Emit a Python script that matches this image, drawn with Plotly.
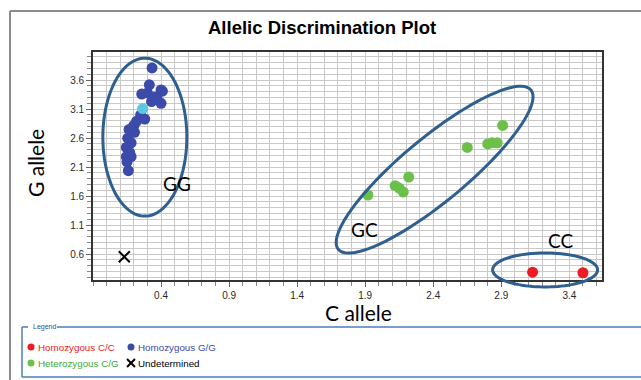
import numpy as np
import plotly.graph_objects as go

# ---- genotype calls (C allele signal, G allele signal) ----
cc_x = [3.13, 3.50]
cc_y = [0.29, 0.28]

gg_x = [0.334, 0.314, 0.258, 0.400, 0.410, 0.355, 0.400, 0.330, 0.370, 0.300,
        0.250, 0.280, 0.220, 0.200, 0.165, 0.205, 0.155, 0.180, 0.145, 0.170,
        0.145, 0.180, 0.150, 0.160]
gg_y = [3.81, 3.52, 3.36, 3.43, 3.41, 3.31, 3.20, 3.23, 3.28, 3.38,
        3.00, 2.93, 2.89, 2.82, 2.75, 2.70, 2.60, 2.52, 2.44, 2.35,
        2.28, 2.28, 2.19, 2.04]

gg_sel_x = [0.265]
gg_sel_y = [3.11]

gc_x = [1.92, 2.12, 2.15, 2.18, 2.22, 2.65, 2.80, 2.83, 2.87, 2.91]
gc_y = [1.62, 1.78, 1.74, 1.67, 1.93, 2.44, 2.50, 2.52, 2.52, 2.82]

und_x = [0.13]
und_y = [0.555]

x_ticks = [0.4, 0.9, 1.4, 1.9, 2.4, 2.9, 3.4]
y_ticks = [0.6, 1.1, 1.6, 2.1, 2.6, 3.1, 3.6]
x_range = [-0.1, 3.64]
y_range = [0.155, 4.085]

# ---- page geometry ----
W, H = 641, 380
ML, MR, MT, MB = 93, 39, 52, 100
PW, PH = W - ML - MR, H - MT - MB

RED = "#EC1C24"
BLUE = "#3C4BAA"
CYAN = "#5BC8E2"
GREEN = "#6CC04A"
RING = "#2F5F8F"


def px(x):
    return (x - ML) / PW


def py(y):
    return (H - MB - y) / PH


def dx(v):
    return ML + (v - x_range[0]) / (x_range[1] - x_range[0]) * PW


def dy(v):
    return H - MB - (v - y_range[0]) / (y_range[1] - y_range[0]) * PH


def ellipse_path(cx, cy, a, b, ang_deg, n=90):
    """Ellipse centred on a data point, semi-axes in screen pixels."""
    cxp, cyp = dx(cx), dy(cy)
    t = np.linspace(0, 2 * np.pi, n, endpoint=False)
    ang = np.radians(ang_deg)
    ex = a * np.cos(t)
    ey = b * np.sin(t)
    xs = cxp + ex * np.cos(ang) + ey * np.sin(ang)
    ys = cyp - ex * np.sin(ang) + ey * np.cos(ang)
    pts = [f"{px(X):.5f},{py(Y):.5f}" for X, Y in zip(xs, ys)]
    return "M " + " L ".join(pts) + " Z"


fig = go.Figure()
fig.add_trace(go.Scatter(x=gc_x, y=gc_y, mode="markers",
                         marker=dict(size=11, color=GREEN), name="Heterozygous C/G"))
fig.add_trace(go.Scatter(x=gg_x, y=gg_y, mode="markers",
                         marker=dict(size=11, color=BLUE), name="Homozygous G/G"))
fig.add_trace(go.Scatter(x=gg_sel_x, y=gg_sel_y, mode="markers",
                         marker=dict(size=11, color=CYAN), showlegend=False))
fig.add_trace(go.Scatter(x=cc_x, y=cc_y, mode="markers",
                         marker=dict(size=11, color=RED), name="Homozygous C/C"))
fig.add_trace(go.Scatter(x=und_x, y=und_y, mode="markers",
                         marker=dict(size=11, symbol="x-thin", color="black",
                                     line=dict(width=2, color="black")),
                         name="Undetermined"))

tickfont = dict(family="Liberation Sans, Arial", size=10, color="#2a2a2a")
axis_common = dict(
    showgrid=True, gridcolor="#c9c9c9", gridwidth=1,
    showline=True, linecolor="#333333", linewidth=1.6, mirror=True,
    ticks="outside", ticklen=5, tickcolor="#666666", tickwidth=1,
    tickfont=tickfont, zeroline=False, tickmode="array", tickformat=".1f",
)
fig.update_xaxes(range=x_range, tickvals=x_ticks,
                 minor=dict(tickmode="linear", tick0=0.4, dtick=0.1,
                            showgrid=True, gridcolor="#c9c9c9", gridwidth=1,
                            ticks="outside", ticklen=4, tickcolor="#888888"),
                 **axis_common)
fig.update_yaxes(range=y_range, tickvals=y_ticks,
                 minor=dict(tickmode="linear", tick0=0.6, dtick=0.1,
                            showgrid=True, gridcolor="#c9c9c9", gridwidth=1,
                            ticks="outside", ticklen=4, tickcolor="#888888"),
                 **axis_common)

shapes = []
# cluster rings
shapes.append(dict(type="path", xref="paper", yref="paper",
                   path=ellipse_path(0.281, 2.617, 42, 79, 0),
                   line=dict(color=RING, width=3)))
shapes.append(dict(type="path", xref="paper", yref="paper",
                   path=ellipse_path(2.41, 2.057, 125, 32, 39.6),
                   line=dict(color=RING, width=3)))
shapes.append(dict(type="path", xref="paper", yref="paper",
                   path=ellipse_path(3.222, 0.329, 52.5, 17, 0),
                   line=dict(color=RING, width=3)))

# outer frame (top and left edges)
shapes.append(dict(type="line", xref="paper", yref="paper",
                   x0=px(10), x1=px(660), y0=py(11), y1=py(11),
                   line=dict(color="#8a8a8a", width=2)))
shapes.append(dict(type="line", xref="paper", yref="paper",
                   x0=px(10), x1=px(10), y0=py(11), y1=py(400),
                   line=dict(color="#8a8a8a", width=2)))

# legend frame
LB = "#4F7CB8"
for (x0, y0, x1, y1) in [(22, 327, 28, 327), (57, 327, 660, 327),
                         (22, 327, 22, 377), (22, 377, 660, 377)]:
    shapes.append(dict(type="line", xref="paper", yref="paper",
                       x0=px(x0), x1=px(x1), y0=py(y0), y1=py(y1),
                       line=dict(color=LB, width=1.5)))

# legend swatches
for (cx, cy, col) in [(31, 347, RED), (131, 347, BLUE), (31, 363, GREEN)]:
    shapes.append(dict(type="circle", xref="paper", yref="paper",
                       x0=px(cx - 3.5), x1=px(cx + 3.5),
                       y0=py(cy - 3.5), y1=py(cy + 3.5),
                       fillcolor=col, line=dict(width=0)))
for (a, b) in [((127, 359), (135, 367)), ((127, 367), (135, 359))]:
    shapes.append(dict(type="line", xref="paper", yref="paper",
                       x0=px(a[0]), y0=py(a[1]), x1=px(b[0]), y1=py(b[1]),
                       line=dict(color="black", width=2)))

annotations = []


def note(text, x, y, size, color="black", family="Liberation Sans, Arial",
         xanchor="center", yanchor="middle", angle=0, ref="paper"):
    annotations.append(dict(text=text, x=x, y=y, xref=ref, yref=ref,
                            showarrow=False, xanchor=xanchor, yanchor=yanchor,
                            textangle=angle,
                            font=dict(family=family, size=size, color=color)))


note("<b>Allelic Discrimination Plot</b>", px(322), py(28), 18.5)
note("G allele", px(35), py(163), 21, family="Lato, Noto Sans", angle=-90)
note("C allele", px(358), py(312), 21, family="Lato, Noto Sans")
note("GG", 0.514, 1.824, 19, family="Lato, Noto Sans", ref="x")
note("GC", 1.894, 1.031, 19, family="Lato, Noto Sans", ref="x")
note("CC", 3.336, 0.841, 19, family="Lato, Noto Sans", ref="x")
for a in annotations[-3:]:
    a["xref"], a["yref"] = "x", "y"

note("Legend", px(31), py(327), 7, color="#2f4f8f", xanchor="left")
note("Homozygous C/C", px(36), py(347), 9.8, color=RED, xanchor="left")
note("Homozygous G/G", px(136), py(347), 9.8, color=BLUE, xanchor="left")
note("Heterozygous C/G", px(36), py(363), 9.8, color="#3BAA35", xanchor="left")
note("Undetermined", px(136), py(363), 9.8, color="black", xanchor="left")

fig.update_layout(
    width=W, height=H,
    margin=dict(l=ML, r=MR, t=MT, b=MB, pad=0),
    paper_bgcolor="white", plot_bgcolor="white",
    showlegend=False,
    shapes=shapes, annotations=annotations,
)

fig.write_html("out.html", config=dict(displayModeBar=False))
